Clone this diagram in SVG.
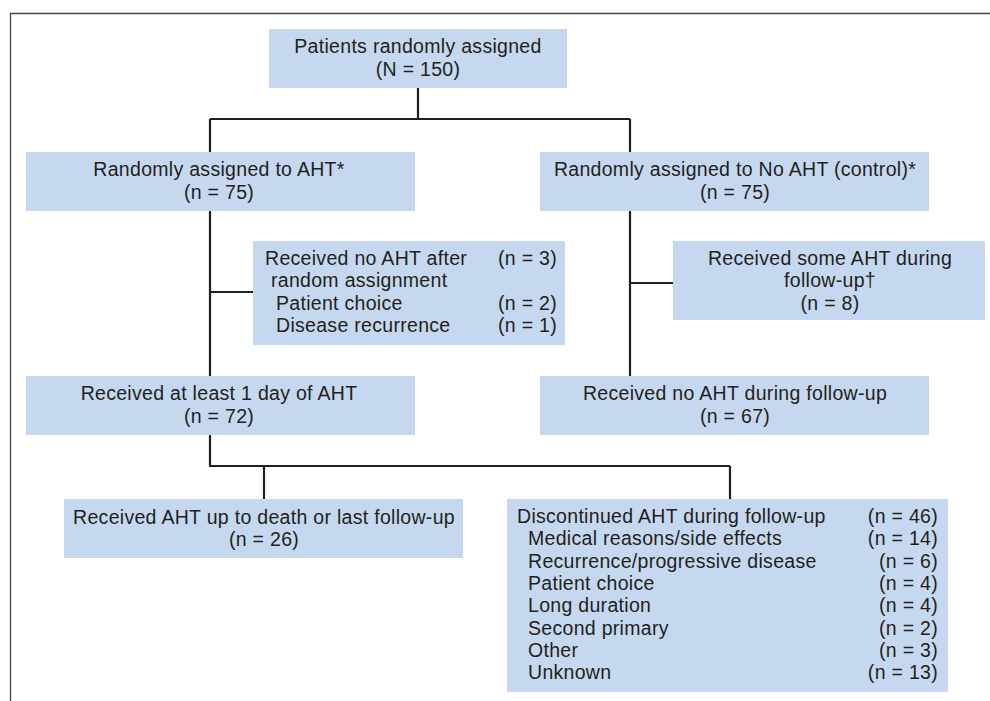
<svg xmlns="http://www.w3.org/2000/svg" width="990" height="701" viewBox="0 0 990 701">
<style>
.box{fill:#c6d8ef}
text{font-family:"Liberation Sans",Arial,sans-serif;font-size:19.5px;letter-spacing:0.3px;fill:#231f20}
.c{text-anchor:middle}
.r{text-anchor:end}
.ln{fill:none;stroke:#231f20;stroke-width:2.2}
.frame{fill:none;stroke:#444;stroke-width:1.3}
</style>
<rect width="990" height="701" fill="#fff"/>
<path class="frame" d="M10.5,701 V13.5 H990"/>
<g id="connectors">
<path class="ln" d="M418,88 V119 M210,119 H630 M210,119 V152 M630,119 V152"/>
<path class="ln" d="M210,211 V376 M210,292 H253"/>
<path class="ln" d="M630,211 V376 M630,283 H673"/>
<path class="ln" d="M210,435 V466 H730 M264,466 V499 M730,466 V499"/>
</g>
<g id="n1"><rect class="box" x="269" y="29" width="298" height="59"/>
<text class="c" x="418" y="53">Patients randomly assigned</text>
<text class="c" x="418" y="76">(N = 150)</text></g>
<g id="n2"><rect class="box" x="26" y="152" width="389" height="59"/>
<text class="c" x="219" y="176">Randomly assigned to AHT*</text>
<text class="c" x="219" y="199">(n = 75)</text></g>
<g id="n3"><rect class="box" x="540" y="152" width="389" height="59"/>
<text class="c" x="735" y="176">Randomly assigned to No AHT (control)*</text>
<text class="c" x="735" y="199">(n = 75)</text></g>
<g id="n4"><rect class="box" x="253" y="241" width="312" height="104"/>
<text x="265" y="265">Received no AHT after</text>
<text class="r" x="557" y="265">(n = 3)</text>
<text x="271" y="287">random assignment</text>
<text x="276" y="310">Patient choice</text>
<text class="r" x="557" y="310">(n = 2)</text>
<text x="276" y="332">Disease recurrence</text>
<text class="r" x="557" y="332">(n = 1)</text></g>
<g id="n5"><rect class="box" x="673" y="241" width="312" height="79"/>
<text class="c" x="830" y="265">Received some AHT during</text>
<text class="c" x="830" y="287">follow-up†</text>
<text class="c" x="830" y="310">(n = 8)</text></g>
<g id="n6"><rect class="box" x="26" y="376" width="389" height="59"/>
<text class="c" x="219" y="400">Received at least 1 day of AHT</text>
<text class="c" x="219" y="423">(n = 72)</text></g>
<g id="n7"><rect class="box" x="540" y="376" width="389" height="59"/>
<text class="c" x="735" y="400">Received no AHT during follow-up</text>
<text class="c" x="735" y="423">(n = 67)</text></g>
<g id="n8"><rect class="box" x="64" y="499" width="399" height="59"/>
<text class="c" x="264" y="524">Received AHT up to death or last follow-up</text>
<text class="c" x="264" y="546">(n = 26)</text></g>
<g id="n9"><rect class="box" x="507" y="499" width="441" height="193"/>
<text x="517" y="523">Discontinued AHT during follow-up</text>
<text class="r" x="938" y="523">(n = 46)</text>
<text x="528" y="545">Medical reasons/side effects</text>
<text class="r" x="938" y="545">(n = 14)</text>
<text x="528" y="568">Recurrence/progressive disease</text>
<text class="r" x="938" y="568">(n = 6)</text>
<text x="528" y="590">Patient choice</text>
<text class="r" x="938" y="590">(n = 4)</text>
<text x="528" y="612">Long duration</text>
<text class="r" x="938" y="612">(n = 4)</text>
<text x="528" y="635">Second primary</text>
<text class="r" x="938" y="635">(n = 2)</text>
<text x="528" y="657">Other</text>
<text class="r" x="938" y="657">(n = 3)</text>
<text x="528" y="679">Unknown</text>
<text class="r" x="938" y="679">(n = 13)</text></g>
</svg>
